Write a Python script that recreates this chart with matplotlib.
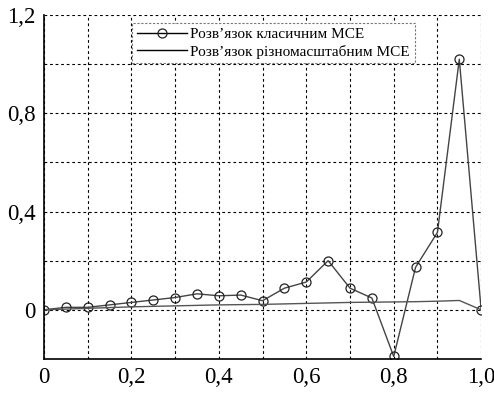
import matplotlib
matplotlib.use("Agg")
import matplotlib.pyplot as plt
import numpy as np

x = [0, 0.05, 0.1, 0.15, 0.2, 0.25, 0.3, 0.35, 0.4, 0.45, 0.5,
     0.55, 0.6, 0.65, 0.7, 0.75, 0.8, 0.85, 0.9, 0.95, 1.0]
classic = [0, 0.01, 0.01, 0.02, 0.03, 0.04, 0.05, 0.065, 0.057, 0.06, 0.037,
           0.088, 0.113, 0.2, 0.088, 0.048, -0.19, 0.173, 0.315, 1.02, 0]
multiscale = [0, 0.003, 0.006, 0.009, 0.012, 0.014, 0.016, 0.018, 0.02, 0.021, 0.022,
              0.024, 0.026, 0.028, 0.03, 0.031, 0.032, 0.033, 0.035, 0.038, 0]
labels = ["Розв’язок класичним МСЕ", "Розв’язок різномасштабним МСЕ"]
xticks = [0, 0.2, 0.4, 0.6, 0.8, 1.0]
xticklabels = ["0", "0,2", "0,4", "0,6", "0,8", "1,0"]
yticks = [0, 0.4, 0.8, 1.2]
yticklabels = ["0", "0,4", "0,8", "1,2"]

plt.rcParams['font.family'] = ['Liberation Serif', 'DejaVu Serif']

fig = plt.figure(figsize=(4.94, 3.94), dpi=100)
ax = fig.add_axes([0.089, 0.089, 0.885, 0.873])

ax.plot(x, classic, color='#444444', lw=1.0, marker='o', ms=6.5,
        mfc='none', mec='#222222', mew=0.9, label=labels[0])
ax.plot(x, multiscale, color='#555555', lw=1.0, label=labels[1])

ax.set_xlim(0, 1.0)
ax.set_ylim(-0.2, 1.2)
ax.set_xticks(xticks)
ax.set_xticks(np.arange(0.1, 1.0, 0.2), minor=True)
ax.set_xticklabels(xticklabels)
ax.set_yticks(yticks)
ax.set_yticks([-0.2, 0.2, 0.6, 1.0], minor=True)
ax.set_yticklabels(yticklabels)
ax.grid(True, which='both', color='black', linestyle=(0, (2.5, 2.5)), lw=0.8)
ax.tick_params(which='both', length=0, labelsize=16.5)
ax.tick_params(axis='x', pad=6)
ax.tick_params(axis='y', pad=6)
ax.spines['top'].set_visible(False)
ax.spines['right'].set_visible(False)
ax.spines['left'].set_linewidth(1.2)
ax.spines['bottom'].set_linewidth(1.2)

leg = ax.legend(loc='upper center', bbox_to_anchor=(0.525, 1.0), fontsize=11,
                handlelength=3.3, borderpad=0.3, labelspacing=0.25,
                handletextpad=0.2, fancybox=False, framealpha=1)
leg.get_frame().set_edgecolor('#777777')
leg.get_frame().set_linestyle((0, (2, 1.5)))
leg.get_frame().set_linewidth(0.8)
for h in leg.get_lines():
    h.set_color('black')

fig.savefig("out.png", dpi=100)
